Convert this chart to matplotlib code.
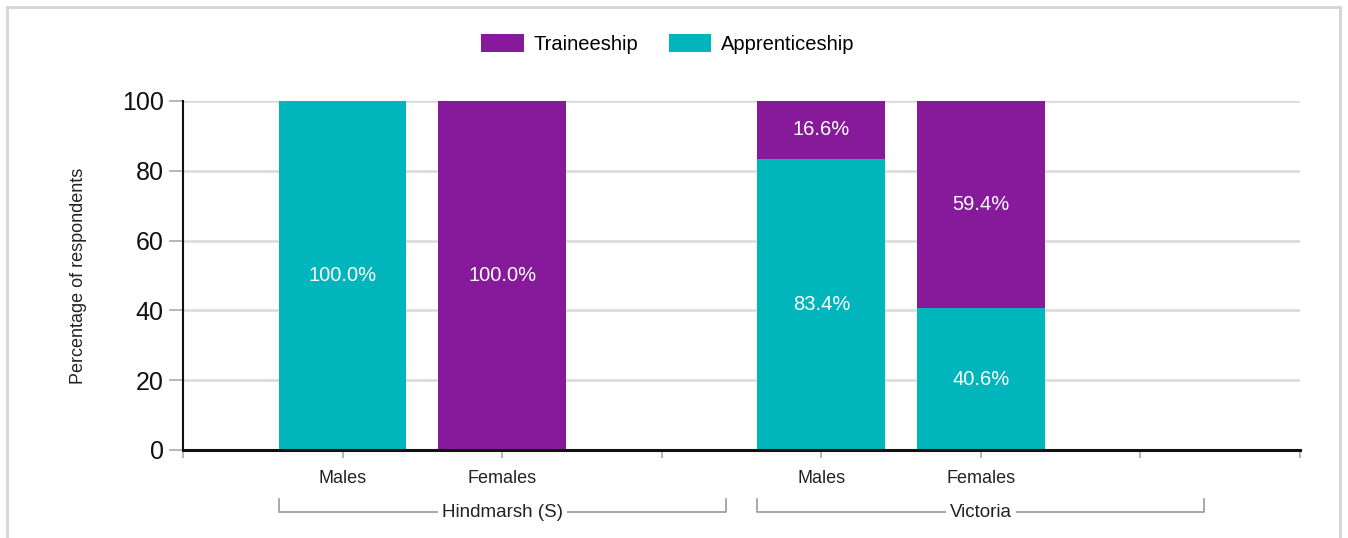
import numpy as np
import matplotlib.pyplot as plt
from matplotlib.patches import Rectangle, Patch
import matplotlib.transforms as mtransforms

plt.rcParams['font.family'] = ['Liberation Sans', 'DejaVu Sans']

# ====================================================================
# data
# ====================================================================
groups = ['Hindmarsh (S)', 'Victoria']
sexes = ['Males', 'Females']
apprenticeship = [100.0, 0.0, 83.4, 40.6]
traineeship = [0.0, 100.0, 16.6, 59.4]
y_ticks = [0, 20, 40, 60, 80, 100]

TEAL = '#00B5BB'
PURPLE = '#861A9B'

# bar slots: two per group, one empty slot after each group
step = len(sexes) + 1
x_pos = []
for g in range(len(groups)):
    for s in range(len(sexes)):
        x_pos.append(g * step + s + 1)
x_pos = np.array(x_pos)
x_max = len(groups) * step + 1

fig = plt.figure(figsize=(13.48, 5.38), dpi=100)
ax = fig.add_axes([0.1358, 0.1636, 0.8286, 0.6487])

ax.set_axisbelow(True)
ax.bar(x_pos, apprenticeship, width=0.8, color=TEAL, label='Apprenticeship', zorder=2)
ax.bar(x_pos, traineeship, width=0.8, bottom=apprenticeship, color=PURPLE,
       label='Traineeship', zorder=2)

# value labels
for x, a, t in zip(x_pos, apprenticeship, traineeship):
    if a > 0:
        ax.text(x, a / 2, f'{a:.1f}%', ha='center', va='center', color='white', fontsize=14.5)
    if t > 0:
        ax.text(x, a + t / 2, f'{t:.1f}%', ha='center', va='center', color='white', fontsize=14.5)

ax.set_xlim(0, x_max)
ax.set_ylim(0, 100)
ax.set_yticks(y_ticks)
ax.tick_params(axis='y', labelsize=18, length=10, width=1.2, color='#aaaaaa', pad=4,
               labelcolor='#111111')
ax.yaxis.grid(True, color='#d9d9d9', linewidth=1.8)

xt = list(range(x_max + 1))
xl = [''] * len(xt)
for i, x in enumerate(x_pos):
    xl[x] = sexes[i % len(sexes)]
ax.set_xticks(xt)
ax.set_xticklabels(xl)
ax.tick_params(axis='x', labelsize=13, length=6, width=1.2, color='#aaaaaa', pad=8.5,
               labelcolor='#222222')

for side in ['top', 'right']:
    ax.spines[side].set_visible(False)
ax.spines['left'].set_linewidth(1.5)
ax.spines['bottom'].set_linewidth(2.2)
ax.spines['left'].set_color('#111111')
ax.spines['bottom'].set_color('#111111')

ax.set_ylabel('Percentage of respondents', fontsize=13, color='#222222')
ax.yaxis.set_label_coords(-0.086, 0.5)

# group brackets under the category labels
trans = mtransforms.blended_transform_factory(ax.transData, ax.transAxes)
y_line = -0.178
y_end = -0.140
for g, name in enumerate(groups):
    left = g * step + 0.6
    right = g * step + step + 0.4
    mid = (left + right) / 2
    ax.plot([left, left, right, right], [y_end, y_line, y_line, y_end],
            color='#9a9a9a', linewidth=1.2, transform=trans, clip_on=False)
    ax.text(mid, y_line, name, ha='center', va='center', fontsize=13.5, color='#222222',
            transform=trans, bbox=dict(facecolor='white', edgecolor='none', pad=3))

# legend
handles = [Patch(facecolor=PURPLE, label='Traineeship'),
           Patch(facecolor=TEAL, label='Apprenticeship')]
fig.legend(handles=handles, loc='center', bbox_to_anchor=(0.4955, 1 - 44 / 538), ncol=2,
           frameon=False, fontsize=14.5, handlelength=2.1, handleheight=1.0,
           handletextpad=0.5, columnspacing=1.5)

# outer frame
fig.patches.append(Rectangle((7 / 1348, -0.05), 1333 / 1348, 1.05 - 7 / 538,
                             transform=fig.transFigure, fill=False,
                             edgecolor='#d4d4d4', linewidth=2))

fig.savefig('out.png', dpi=100)
